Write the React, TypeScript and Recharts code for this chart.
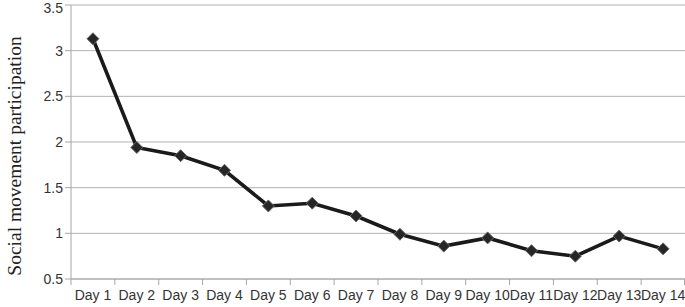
import React from "react";
import { LineChart, Line, XAxis, YAxis, CartesianGrid } from "recharts";

const days = ["Day 1","Day 2","Day 3","Day 4","Day 5","Day 6","Day 7","Day 8","Day 9","Day 10","Day 11","Day 12","Day 13","Day 14"];
const participation = [3.13, 1.94, 1.85, 1.69, 1.3, 1.33, 1.19, 0.99, 0.86, 0.95, 0.81, 0.75, 0.97, 0.83];
const yTicks = [0.5, 1, 1.5, 2, 2.5, 3, 3.5];

const data = days.map((d, i) => ({ day: d, value: participation[i] }));

const W = 685;
const H = 307;
const Y_AXIS_W = 71;
const PLOT_W = W - Y_AXIS_W;
const BAND = PLOT_W / days.length;

const XTick = (props: any) => {
  const { x, y, payload, index } = props;
  const half = BAND / 2;
  return (
    <g>
      <line x1={x - half} y1={y - 8} x2={x - half} y2={y - 2} stroke="#a6a6a6" strokeWidth={1} />
      {index === days.length - 1 && (
        <line x1={x + half - 0.5} y1={y - 8} x2={x + half - 0.5} y2={y - 2} stroke="#a6a6a6" strokeWidth={1} />
      )}
      <text x={x} y={y + 13} textAnchor="middle" fontSize={14} fontFamily="Liberation Sans, Arial, sans-serif" fill="#333">
        {payload.value}
      </text>
    </g>
  );
};

const YLabel = (props: any) => {
  const vb = props.viewBox || {};
  const cy = (vb.y ?? 5) + (vb.height ?? 274) / 2 + 14;
  const cx = 14;
  return (
    <text
      x={cx}
      y={cy}
      transform={`rotate(-90, ${cx}, ${cy})`}
      textAnchor="middle"
      dominantBaseline="central"
      fontSize={19.5}
      fontFamily="Liberation Serif, Times New Roman, serif"
      fill="#222"
    >
      Social movement participation
    </text>
  );
};

const Diamond = (props: any) => {
  const { cx, cy } = props;
  if (cx == null || cy == null) return null;
  const r = 6;
  return (
    <polygon
      points={`${cx},${cy - r} ${cx + r},${cy} ${cx},${cy + r} ${cx - r},${cy}`}
      fill="#262626"
      stroke="#6b6b6b"
      strokeWidth={1}
    />
  );
};

export default function App() {
  return (
    <div style={{ position: "absolute", left: 0, top: 0, width: W, height: H, background: "#fff" }}>
      <LineChart width={W} height={H} data={data} margin={{ top: 5, right: 0, bottom: 0, left: 0 }}>
        <CartesianGrid vertical={false} stroke="#b3b3b3" strokeWidth={1} />
        <XAxis
          dataKey="day"
          height={28}
          tickLine={false}
          axisLine={{ stroke: "#a6a6a6" }}
          tick={<XTick />}
          interval={0}
          padding={{ left: BAND / 2, right: BAND / 2 }}
        />
        <YAxis
          width={Y_AXIS_W}
          domain={[0.5, 3.5]}
          ticks={yTicks}
          tickLine={{ stroke: "#a6a6a6" }}
          tickSize={6}
          axisLine={{ stroke: "#a6a6a6" }}
          tick={{ fontSize: 14, fill: "#333", fontFamily: "Liberation Sans, Arial, sans-serif" }}
          label={<YLabel />}
        />
        <Line
          type="linear"
          dataKey="value"
          stroke="#1a1a1a"
          strokeWidth={3.6}
          dot={<Diamond />}
          isAnimationActive={false}
        />
      </LineChart>
    </div>
  );
}
